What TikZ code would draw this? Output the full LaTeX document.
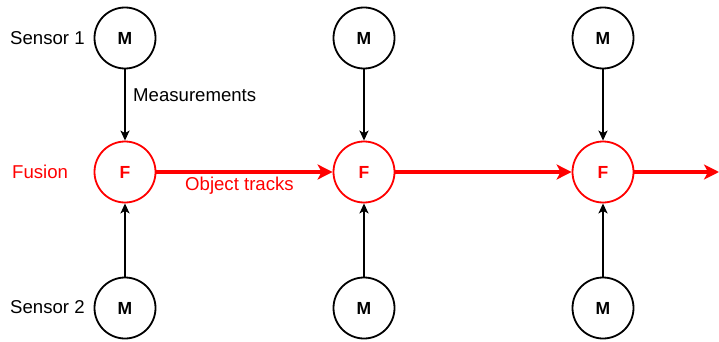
\documentclass[tikz,border=0pt]{standalone}
\usepackage{fontspec}
\setmainfont{Liberation Sans}
\usetikzlibrary{arrows.meta}
\begin{document}
\begin{tikzpicture}[x=1pt,y=-1pt,
  mnode/.style={circle,draw=black,line width=1.8pt,minimum size=61pt,inner sep=0pt,font=\fontsize{17.5}{20}\selectfont\bfseries},
  fnode/.style={circle,draw=red,text=red,line width=1.8pt,minimum size=61pt,inner sep=0pt,font=\fontsize{17.5}{20}\selectfont\bfseries},
  lab/.style={font=\fontsize{18.6}{21}\selectfont,inner sep=0pt},
  barrow/.style={line width=1.8pt,-{Stealth[length=10pt,width=9pt,inset=2.5pt]}},
  rarrow/.style={draw=red,line width=4.2pt,-{Stealth[length=15pt,width=15pt,inset=4pt]}}
]
\useasboundingbox (0,0) rectangle (719,342);
\foreach \i/\x in {1/125,2/364,3/603}{
  \node[mnode] (mt\i) at (\x,38) {M};
  \node[fnode] (f\i) at (\x,172) {F};
  \node[mnode] (mb\i) at (\x,308) {M};
  \draw[barrow] (mt\i) -- (f\i);
  \draw[barrow] (mb\i) -- (f\i);
}
\coordinate (end) at (719,172);
\draw[rarrow] (f1) -- (f2);
\draw[rarrow] (f2) -- (f3);
\draw[rarrow] (f3) -- (end);
\node[lab,anchor=west] (s1) at (10,38) {Sensor 1};
\node[lab,anchor=west] (s2) at (10,307) {Sensor 2};
\node[lab,anchor=west,text=red] (fu) at (12,172) {Fusion};
\node[lab,anchor=west] (me) at (133,95) {Measurements};
\node[lab,anchor=west,text=red] (ot) at (185,186) {Object tracks};
\end{tikzpicture}
\end{document}
